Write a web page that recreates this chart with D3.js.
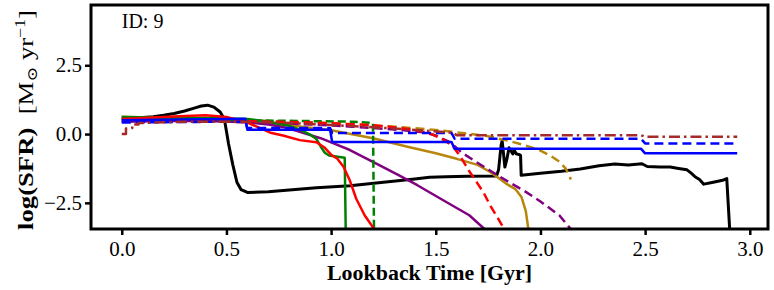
<!DOCTYPE html>
<html><head><meta charset="utf-8">
<script src="https://cdn.jsdelivr.net/npm/d3@7"></script>
<style>body{margin:0;background:#fff}svg{display:block}</style>
</head><body>
<svg id="c" width="774" height="290"></svg>
<script>
// ---- data (lookback time [Gyr], log SFR) ----
const xTicks = [0.0, 0.5, 1.0, 1.5, 2.0, 2.5, 3.0];
const yTicks = [-2.5, 0.0, 2.5];
const idLabel = "ID: 9";

const blackSolid = [[0,0.56],[0.05,0.58],[0.1,0.6],[0.15,0.63],[0.2,0.68],[0.25,0.75],[0.3,0.84],[0.35,0.95],[0.38,1.02],[0.41,1.05],[0.44,0.98],[0.47,0.8],[0.49,0.55],[0.5,0.1],[0.51,-0.35],[0.53,-1.1],[0.55,-1.75],[0.57,-2.02],[0.6,-2.12],[0.7,-2.1],[0.8,-2.03],[0.93,-1.95],[1.09,-1.88],[1.25,-1.75],[1.4,-1.63],[1.47,-1.57],[1.55,-1.55],[1.65,-1.53],[1.79,-1.52],[1.8,-1.3],[1.812,-0.4],[1.817,-0.25],[1.822,-0.6],[1.83,-1.2],[1.84,-0.9],[1.85,-0.5],[1.86,-0.62],[1.868,-0.72],[1.875,-0.6],[1.885,-0.72],[1.9,-0.75],[1.905,-0.78],[1.908,-1.5],[2.0,-1.42],[2.1,-1.35],[2.19,-1.27],[2.28,-1.15],[2.355,-1.09],[2.42,-1.12],[2.485,-1.08],[2.51,-1.18],[2.57,-1.2],[2.62,-1.2],[2.66,-1.25],[2.7,-1.3],[2.72,-1.42],[2.74,-1.56],[2.76,-1.65],[2.78,-1.82],[2.82,-1.76],[2.87,-1.68],[2.89,-1.62],[2.905,-3.6]];
const blueSolid = [[0,0.5],[0.3,0.53],[0.59,0.56],[0.6,0.16],[0.995,0.16],[1.005,-0.29],[1.575,-0.29],[1.59,-0.53],[2.48,-0.53],[2.5,-0.7],[2.94,-0.7]];
const blueDashed = [[0,0.42],[0.3,0.44],[0.59,0.45],[0.6,0.22],[0.995,0.22],[1.005,0.04],[1.575,0.04],[1.59,-0.17],[2.48,-0.17],[2.5,-0.34],[2.94,-0.34]];
const brownDashDot = [[0,0.0],[0.02,0.0],[0.02,0.2],[0.05,0.22],[0.05,0.35],[0.08,0.35],[0.08,0.4],[0.3,0.45],[0.6,0.45],[0.8,0.4],[1.0,0.33],[1.2,0.25],[1.4,0.15],[1.58,0.05],[1.6,-0.04],[2.48,-0.04],[2.5,-0.1],[2.94,-0.1]];
const greenSolid = [[0,0.62],[0.2,0.6],[0.4,0.58],[0.6,0.55],[0.7,0.45],[0.8,0.3],[0.85,0.16],[0.9,-0.02],[0.93,-0.18],[0.95,-0.45],[0.97,-0.68],[0.99,-0.78],[1.065,-0.86],[1.07,-3.6]];
const greenDashed = [[0,0.6],[0.3,0.55],[0.6,0.5],[0.9,0.47],[1.1,0.45],[1.2,0.4],[1.205,-3.6]];
const redSolid = [[0,0.55],[0.1,0.58],[0.2,0.62],[0.3,0.66],[0.4,0.68],[0.5,0.62],[0.6,0.42],[0.65,0.25],[0.71,0.05],[0.77,-0.05],[0.85,-0.22],[0.93,-0.3],[0.97,-0.5],[1.0,-0.75],[1.03,-0.9],[1.06,-1.2],[1.09,-1.7],[1.12,-2.35],[1.16,-2.95],[1.21,-3.5]];
const redDashed = [[0,0.5],[0.3,0.5],[0.6,0.47],[0.9,0.42],[1.1,0.36],[1.2,0.32],[1.3,0.25],[1.4,0.15],[1.47,0.03],[1.53,-0.18],[1.58,-0.42],[1.62,-0.85],[1.66,-1.35],[1.7,-1.8],[1.73,-2.15],[1.76,-2.6],[1.8,-3.1],[1.83,-3.5]];
const purpleSolid = [[0,0.45],[0.3,0.48],[0.5,0.46],[0.6,0.42],[0.7,0.35],[0.77,0.26],[0.85,0.08],[0.95,-0.15],[1.0,-0.3],[1.09,-0.58],[1.23,-1.13],[1.32,-1.48],[1.41,-1.85],[1.55,-2.47],[1.66,-2.95],[1.74,-3.5]];
const purpleDashed = [[0,0.45],[0.3,0.47],[0.6,0.44],[0.9,0.35],[1.1,0.27],[1.3,0.17],[1.44,0.07],[1.5,-0.05],[1.57,-0.3],[1.62,-0.65],[1.69,-1.0],[1.77,-1.38],[1.85,-1.75],[1.93,-2.1],[2.0,-2.45],[2.09,-2.95],[2.15,-3.5]];
const goldSolid = [[0,0.63],[0.3,0.55],[0.6,0.46],[0.8,0.32],[1.0,0.14],[1.2,-0.15],[1.36,-0.45],[1.5,-0.7],[1.6,-0.9],[1.7,-1.12],[1.76,-1.38],[1.8,-1.6],[1.84,-1.82],[1.88,-2.0],[1.91,-2.3],[1.93,-2.8],[1.945,-3.6]];
const goldDashed = [[0,0.55],[0.3,0.52],[0.6,0.5],[1.0,0.4],[1.3,0.27],[1.5,0.15],[1.65,0.02],[1.75,-0.08],[1.85,-0.25],[1.93,-0.42],[2.0,-0.6],[2.05,-0.8],[2.09,-1.0],[2.12,-1.25],[2.135,-1.45],[2.145,-1.65]];

// ---- layout ----
const svg = d3.select("#c");
const L = 91, R = 768, T = 5, B = 229;
const x = d3.scaleLinear().domain([-0.147, 3.087]).range([L, R]);
const y = d3.scaleLinear().domain([-3.45, 4.69]).range([B, T]);
const serif = "'Liberation Serif','DejaVu Serif',serif";

svg.append("clipPath").attr("id","clip").append("rect")
  .attr("x", L).attr("y", T).attr("width", R-L).attr("height", B-T);

const line = d3.line().x(d => x(d[0])).y(d => y(d[1]));
const series = [
  {d: blackSolid, c: "#000000", w: 3, dash: null},
  {d: goldSolid, c: "#b8860b", w: 2.5, dash: null},
  {d: goldDashed, c: "#b8860b", w: 2.5, dash: "9,5"},
  {d: purpleSolid, c: "#800080", w: 2.5, dash: null},
  {d: purpleDashed, c: "#800080", w: 2.5, dash: "9,5"},
  {d: greenSolid, c: "#008000", w: 2.5, dash: null},
  {d: greenDashed, c: "#008000", w: 2.5, dash: "8,4"},
  {d: redSolid, c: "#ff0000", w: 2.5, dash: null},
  {d: redDashed, c: "#ff0000", w: 2.5, dash: "9,5"},
  {d: blueSolid, c: "#0000ff", w: 2.5, dash: null},
  {d: blueDashed, c: "#0000ff", w: 2.5, dash: "9,5"},
  {d: brownDashDot, c: "#a52a2a", w: 2.5, dash: "11,4,2.5,4"}
];
const g = svg.append("g").attr("clip-path","url(#clip)");
series.forEach(s => {
  g.append("path").attr("d", line(s.d)).attr("fill","none")
    .attr("stroke", s.c).attr("stroke-width", s.w)
    .attr("stroke-linejoin","round")
    .attr("stroke-dasharray", s.dash);
});

// axes
const fmt = d3.format(".1f");
const xa = svg.append("g").attr("transform", `translate(0,${B})`)
  .call(d3.axisBottom(x).tickValues(xTicks).tickFormat(fmt).tickSize(6).tickPadding(6));
const ya = svg.append("g").attr("transform", `translate(${L},0)`)
  .call(d3.axisLeft(y).tickValues(yTicks).tickFormat(fmt).tickSize(6).tickPadding(3));
[xa, ya].forEach(a => {
  a.select(".domain").remove();
  a.selectAll(".tick line").attr("stroke","#000").attr("stroke-width",2.5);
  a.selectAll(".tick text").attr("font-family", serif).attr("font-size", 21).attr("fill","#000");
});

// frame
svg.append("rect").attr("x", L).attr("y", T).attr("width", R-L).attr("height", B-T)
  .attr("fill","none").attr("stroke","#000").attr("stroke-width",3);

// id label
svg.append("text").attr("x", x(0)).attr("y", 28).attr("font-family", serif)
  .attr("font-size", 20).text(idLabel);

// x label
svg.append("text").attr("x", (L+R)/2).attr("y", 280).attr("text-anchor","middle")
  .attr("font-family", serif).attr("font-size", 20).attr("font-weight","bold")
  .attr("textLength", 205).attr("lengthAdjust","spacingAndGlyphs")
  .text("Lookback Time [Gyr]");

// y label
const yl = svg.append("text").attr("transform", `translate(33,${(T+B)/2+3}) rotate(-90)`)
  .attr("text-anchor","middle").attr("font-family", serif).attr("font-size", 21)
  .attr("textLength", 220).attr("lengthAdjust","spacingAndGlyphs");
yl.append("tspan").attr("font-weight","bold").text("log(SFR)");
yl.append("tspan").text("\u2002[M");
yl.append("tspan").attr("font-size", 14).attr("dy", 4).text("\u2299");
yl.append("tspan").attr("dy", -4).text(" yr");
yl.append("tspan").attr("font-size", 14).attr("dy", -8).text("\u22121");
yl.append("tspan").attr("dy", 8).text("]");
</script>
</body></html>
